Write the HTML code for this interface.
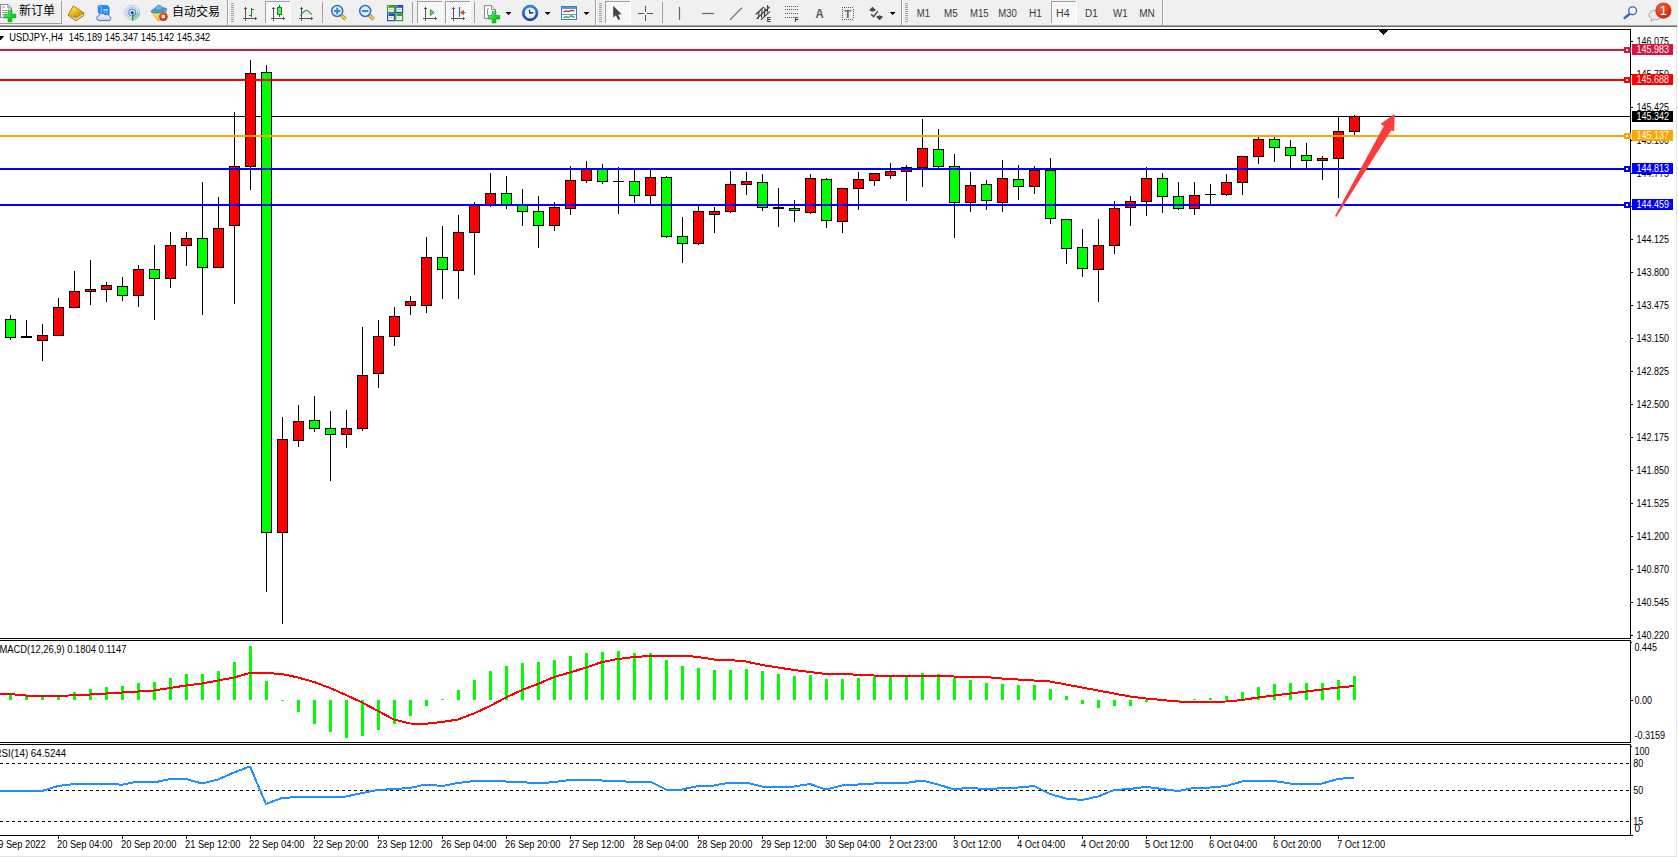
<!DOCTYPE html>
<html lang="zh"><head><meta charset="utf-8"><title>USDJPY-,H4</title>
<style>html,body{margin:0;padding:0;background:#fff;overflow:hidden}svg{display:block}text{white-space:pre}</style></head>
<body><svg width="1678" height="857" viewBox="0 0 1678 857">
<rect x="0" y="0" width="1678" height="857" fill="#fff"/>
<rect x="1676" y="27" width="1" height="830" fill="#e3e3e3"/>
<rect x="0" y="856" width="1677" height="1" fill="#e3e3e3"/>
<g shape-rendering="crispEdges">
<rect x="0" y="29" width="1631" height="1" fill="#000"/>
<rect x="1630" y="29" width="1" height="807" fill="#000"/>
<rect x="0" y="638" width="1631" height="1" fill="#000"/>
<rect x="0" y="640" width="1631" height="1" fill="#000"/>
<rect x="0" y="742" width="1631" height="1" fill="#000"/>
<rect x="0" y="744" width="1631" height="1" fill="#000"/>
<rect x="0" y="835" width="1633" height="1" fill="#000"/>
<rect x="1630" y="639" width="1" height="1" fill="#fff"/>
<rect x="1630" y="743" width="1" height="1" fill="#fff"/>
<rect x="0" y="116" width="1630" height="1" fill="#000"/>
<rect x="10" y="315" width="1" height="25" fill="#000"/>
<rect x="5" y="319" width="11" height="19" fill="#000"/>
<rect x="6" y="320" width="9" height="17" fill="#0f0"/>
<rect x="26" y="320" width="1" height="18" fill="#000"/>
<rect x="21" y="336" width="11" height="2" fill="#000"/>
<rect x="42" y="324" width="1" height="37" fill="#000"/>
<rect x="37" y="335" width="11" height="6" fill="#000"/>
<rect x="38" y="336" width="9" height="4" fill="#f00"/>
<rect x="58" y="298" width="1" height="38" fill="#000"/>
<rect x="53" y="307" width="11" height="29" fill="#000"/>
<rect x="54" y="308" width="9" height="27" fill="#f00"/>
<rect x="74" y="271" width="1" height="37" fill="#000"/>
<rect x="69" y="291" width="11" height="17" fill="#000"/>
<rect x="70" y="292" width="9" height="15" fill="#f00"/>
<rect x="90" y="260" width="1" height="45" fill="#000"/>
<rect x="85" y="289" width="11" height="3" fill="#000"/>
<rect x="86" y="290" width="9" height="1" fill="#f00"/>
<rect x="106" y="282" width="1" height="20" fill="#000"/>
<rect x="101" y="285" width="11" height="5" fill="#000"/>
<rect x="102" y="286" width="9" height="3" fill="#f00"/>
<rect x="122" y="277" width="1" height="24" fill="#000"/>
<rect x="117" y="286" width="11" height="10" fill="#000"/>
<rect x="118" y="287" width="9" height="8" fill="#0f0"/>
<rect x="138" y="265" width="1" height="42" fill="#000"/>
<rect x="133" y="269" width="11" height="27" fill="#000"/>
<rect x="134" y="270" width="9" height="25" fill="#f00"/>
<rect x="154" y="245" width="1" height="75" fill="#000"/>
<rect x="149" y="269" width="11" height="10" fill="#000"/>
<rect x="150" y="270" width="9" height="8" fill="#0f0"/>
<rect x="170" y="232" width="1" height="56" fill="#000"/>
<rect x="165" y="245" width="11" height="34" fill="#000"/>
<rect x="166" y="246" width="9" height="32" fill="#f00"/>
<rect x="186" y="232" width="1" height="34" fill="#000"/>
<rect x="181" y="238" width="11" height="8" fill="#000"/>
<rect x="182" y="239" width="9" height="6" fill="#f00"/>
<rect x="202" y="182" width="1" height="133" fill="#000"/>
<rect x="197" y="238" width="11" height="30" fill="#000"/>
<rect x="198" y="239" width="9" height="28" fill="#0f0"/>
<rect x="218" y="197" width="1" height="71" fill="#000"/>
<rect x="213" y="228" width="11" height="40" fill="#000"/>
<rect x="214" y="229" width="9" height="38" fill="#f00"/>
<rect x="234" y="112" width="1" height="192" fill="#000"/>
<rect x="229" y="166" width="11" height="60" fill="#000"/>
<rect x="230" y="167" width="9" height="58" fill="#f00"/>
<rect x="250" y="60" width="1" height="130" fill="#000"/>
<rect x="245" y="73" width="11" height="94" fill="#000"/>
<rect x="246" y="74" width="9" height="92" fill="#f00"/>
<rect x="266" y="65" width="1" height="527" fill="#000"/>
<rect x="261" y="72" width="11" height="461" fill="#000"/>
<rect x="262" y="73" width="9" height="459" fill="#0f0"/>
<rect x="282" y="417" width="1" height="207" fill="#000"/>
<rect x="277" y="439" width="11" height="94" fill="#000"/>
<rect x="278" y="440" width="9" height="92" fill="#f00"/>
<rect x="298" y="405" width="1" height="42" fill="#000"/>
<rect x="293" y="421" width="11" height="20" fill="#000"/>
<rect x="294" y="422" width="9" height="18" fill="#f00"/>
<rect x="314" y="396" width="1" height="36" fill="#000"/>
<rect x="309" y="420" width="11" height="9" fill="#000"/>
<rect x="310" y="421" width="9" height="7" fill="#0f0"/>
<rect x="330" y="411" width="1" height="70" fill="#000"/>
<rect x="325" y="428" width="11" height="7" fill="#000"/>
<rect x="326" y="429" width="9" height="5" fill="#0f0"/>
<rect x="346" y="410" width="1" height="38" fill="#000"/>
<rect x="341" y="428" width="11" height="7" fill="#000"/>
<rect x="342" y="429" width="9" height="5" fill="#f00"/>
<rect x="362" y="327" width="1" height="104" fill="#000"/>
<rect x="357" y="375" width="11" height="54" fill="#000"/>
<rect x="358" y="376" width="9" height="52" fill="#f00"/>
<rect x="378" y="320" width="1" height="68" fill="#000"/>
<rect x="373" y="336" width="11" height="38" fill="#000"/>
<rect x="374" y="337" width="9" height="36" fill="#f00"/>
<rect x="394" y="307" width="1" height="39" fill="#000"/>
<rect x="389" y="316" width="11" height="21" fill="#000"/>
<rect x="390" y="317" width="9" height="19" fill="#f00"/>
<rect x="410" y="296" width="1" height="19" fill="#000"/>
<rect x="405" y="301" width="11" height="5" fill="#000"/>
<rect x="406" y="302" width="9" height="3" fill="#f00"/>
<rect x="426" y="237" width="1" height="76" fill="#000"/>
<rect x="421" y="257" width="11" height="49" fill="#000"/>
<rect x="422" y="258" width="9" height="47" fill="#f00"/>
<rect x="442" y="226" width="1" height="73" fill="#000"/>
<rect x="437" y="257" width="11" height="13" fill="#000"/>
<rect x="438" y="258" width="9" height="11" fill="#0f0"/>
<rect x="458" y="215" width="1" height="84" fill="#000"/>
<rect x="453" y="232" width="11" height="39" fill="#000"/>
<rect x="454" y="233" width="9" height="37" fill="#f00"/>
<rect x="474" y="202" width="1" height="73" fill="#000"/>
<rect x="469" y="205" width="11" height="28" fill="#000"/>
<rect x="470" y="206" width="9" height="26" fill="#f00"/>
<rect x="490" y="173" width="1" height="34" fill="#000"/>
<rect x="485" y="193" width="11" height="13" fill="#000"/>
<rect x="486" y="194" width="9" height="11" fill="#f00"/>
<rect x="506" y="176" width="1" height="33" fill="#000"/>
<rect x="501" y="193" width="11" height="13" fill="#000"/>
<rect x="502" y="194" width="9" height="11" fill="#0f0"/>
<rect x="522" y="189" width="1" height="37" fill="#000"/>
<rect x="517" y="205" width="11" height="7" fill="#000"/>
<rect x="518" y="206" width="9" height="5" fill="#0f0"/>
<rect x="538" y="196" width="1" height="52" fill="#000"/>
<rect x="533" y="211" width="11" height="15" fill="#000"/>
<rect x="534" y="212" width="9" height="13" fill="#0f0"/>
<rect x="554" y="202" width="1" height="29" fill="#000"/>
<rect x="549" y="207" width="11" height="19" fill="#000"/>
<rect x="550" y="208" width="9" height="17" fill="#f00"/>
<rect x="570" y="166" width="1" height="49" fill="#000"/>
<rect x="565" y="180" width="11" height="29" fill="#000"/>
<rect x="566" y="181" width="9" height="27" fill="#f00"/>
<rect x="586" y="161" width="1" height="22" fill="#000"/>
<rect x="581" y="169" width="11" height="12" fill="#000"/>
<rect x="582" y="170" width="9" height="10" fill="#f00"/>
<rect x="602" y="164" width="1" height="20" fill="#000"/>
<rect x="597" y="169" width="11" height="13" fill="#000"/>
<rect x="598" y="170" width="9" height="11" fill="#0f0"/>
<rect x="618" y="167" width="1" height="47" fill="#000"/>
<rect x="613" y="181" width="11" height="1" fill="#000"/>
<rect x="634" y="169" width="1" height="34" fill="#000"/>
<rect x="629" y="181" width="11" height="15" fill="#000"/>
<rect x="630" y="182" width="9" height="13" fill="#0f0"/>
<rect x="650" y="169" width="1" height="35" fill="#000"/>
<rect x="645" y="177" width="11" height="19" fill="#000"/>
<rect x="646" y="178" width="9" height="17" fill="#f00"/>
<rect x="666" y="176" width="1" height="62" fill="#000"/>
<rect x="661" y="177" width="11" height="60" fill="#000"/>
<rect x="662" y="178" width="9" height="58" fill="#0f0"/>
<rect x="682" y="217" width="1" height="46" fill="#000"/>
<rect x="677" y="236" width="11" height="8" fill="#000"/>
<rect x="678" y="237" width="9" height="6" fill="#0f0"/>
<rect x="698" y="205" width="1" height="40" fill="#000"/>
<rect x="693" y="211" width="11" height="33" fill="#000"/>
<rect x="694" y="212" width="9" height="31" fill="#f00"/>
<rect x="714" y="207" width="1" height="26" fill="#000"/>
<rect x="709" y="211" width="11" height="4" fill="#000"/>
<rect x="710" y="212" width="9" height="2" fill="#f00"/>
<rect x="730" y="171" width="1" height="42" fill="#000"/>
<rect x="725" y="184" width="11" height="28" fill="#000"/>
<rect x="726" y="185" width="9" height="26" fill="#f00"/>
<rect x="746" y="172" width="1" height="23" fill="#000"/>
<rect x="741" y="181" width="11" height="4" fill="#000"/>
<rect x="742" y="182" width="9" height="2" fill="#f00"/>
<rect x="762" y="174" width="1" height="37" fill="#000"/>
<rect x="757" y="182" width="11" height="26" fill="#000"/>
<rect x="758" y="183" width="9" height="24" fill="#0f0"/>
<rect x="778" y="188" width="1" height="39" fill="#000"/>
<rect x="773" y="207" width="11" height="2" fill="#000"/>
<rect x="794" y="200" width="1" height="22" fill="#000"/>
<rect x="789" y="208" width="11" height="3" fill="#000"/>
<rect x="790" y="209" width="9" height="1" fill="#0f0"/>
<rect x="810" y="174" width="1" height="40" fill="#000"/>
<rect x="805" y="178" width="11" height="35" fill="#000"/>
<rect x="806" y="179" width="9" height="33" fill="#f00"/>
<rect x="826" y="178" width="1" height="50" fill="#000"/>
<rect x="821" y="179" width="11" height="42" fill="#000"/>
<rect x="822" y="180" width="9" height="40" fill="#0f0"/>
<rect x="842" y="188" width="1" height="45" fill="#000"/>
<rect x="837" y="188" width="11" height="34" fill="#000"/>
<rect x="838" y="189" width="9" height="32" fill="#f00"/>
<rect x="858" y="172" width="1" height="38" fill="#000"/>
<rect x="853" y="179" width="11" height="10" fill="#000"/>
<rect x="854" y="180" width="9" height="8" fill="#f00"/>
<rect x="874" y="173" width="1" height="13" fill="#000"/>
<rect x="869" y="173" width="11" height="8" fill="#000"/>
<rect x="870" y="174" width="9" height="6" fill="#f00"/>
<rect x="890" y="163" width="1" height="16" fill="#000"/>
<rect x="885" y="171" width="11" height="5" fill="#000"/>
<rect x="886" y="172" width="9" height="3" fill="#f00"/>
<rect x="906" y="165" width="1" height="36" fill="#000"/>
<rect x="901" y="167" width="11" height="5" fill="#000"/>
<rect x="902" y="168" width="9" height="3" fill="#f00"/>
<rect x="922" y="119" width="1" height="68" fill="#000"/>
<rect x="917" y="148" width="11" height="20" fill="#000"/>
<rect x="918" y="149" width="9" height="18" fill="#f00"/>
<rect x="938" y="129" width="1" height="39" fill="#000"/>
<rect x="933" y="149" width="11" height="18" fill="#000"/>
<rect x="934" y="150" width="9" height="16" fill="#0f0"/>
<rect x="954" y="154" width="1" height="84" fill="#000"/>
<rect x="949" y="166" width="11" height="37" fill="#000"/>
<rect x="950" y="167" width="9" height="35" fill="#0f0"/>
<rect x="970" y="172" width="1" height="40" fill="#000"/>
<rect x="965" y="185" width="11" height="18" fill="#000"/>
<rect x="966" y="186" width="9" height="16" fill="#f00"/>
<rect x="986" y="180" width="1" height="30" fill="#000"/>
<rect x="981" y="184" width="11" height="17" fill="#000"/>
<rect x="982" y="185" width="9" height="15" fill="#0f0"/>
<rect x="1002" y="160" width="1" height="52" fill="#000"/>
<rect x="997" y="178" width="11" height="25" fill="#000"/>
<rect x="998" y="179" width="9" height="23" fill="#f00"/>
<rect x="1018" y="165" width="1" height="35" fill="#000"/>
<rect x="1013" y="179" width="11" height="8" fill="#000"/>
<rect x="1014" y="180" width="9" height="6" fill="#0f0"/>
<rect x="1034" y="166" width="1" height="28" fill="#000"/>
<rect x="1029" y="170" width="11" height="17" fill="#000"/>
<rect x="1030" y="171" width="9" height="15" fill="#f00"/>
<rect x="1050" y="158" width="1" height="66" fill="#000"/>
<rect x="1045" y="170" width="11" height="49" fill="#000"/>
<rect x="1046" y="171" width="9" height="47" fill="#0f0"/>
<rect x="1066" y="219" width="1" height="45" fill="#000"/>
<rect x="1061" y="219" width="11" height="30" fill="#000"/>
<rect x="1062" y="220" width="9" height="28" fill="#0f0"/>
<rect x="1082" y="229" width="1" height="48" fill="#000"/>
<rect x="1077" y="247" width="11" height="22" fill="#000"/>
<rect x="1078" y="248" width="9" height="20" fill="#0f0"/>
<rect x="1098" y="219" width="1" height="83" fill="#000"/>
<rect x="1093" y="245" width="11" height="25" fill="#000"/>
<rect x="1094" y="246" width="9" height="23" fill="#f00"/>
<rect x="1114" y="201" width="1" height="53" fill="#000"/>
<rect x="1109" y="208" width="11" height="38" fill="#000"/>
<rect x="1110" y="209" width="9" height="36" fill="#f00"/>
<rect x="1130" y="196" width="1" height="30" fill="#000"/>
<rect x="1125" y="201" width="11" height="7" fill="#000"/>
<rect x="1126" y="202" width="9" height="5" fill="#f00"/>
<rect x="1146" y="167" width="1" height="49" fill="#000"/>
<rect x="1141" y="178" width="11" height="24" fill="#000"/>
<rect x="1142" y="179" width="9" height="22" fill="#f00"/>
<rect x="1162" y="173" width="1" height="40" fill="#000"/>
<rect x="1157" y="178" width="11" height="19" fill="#000"/>
<rect x="1158" y="179" width="9" height="17" fill="#0f0"/>
<rect x="1178" y="182" width="1" height="28" fill="#000"/>
<rect x="1173" y="196" width="11" height="13" fill="#000"/>
<rect x="1174" y="197" width="9" height="11" fill="#0f0"/>
<rect x="1194" y="182" width="1" height="33" fill="#000"/>
<rect x="1189" y="195" width="11" height="14" fill="#000"/>
<rect x="1190" y="196" width="9" height="12" fill="#f00"/>
<rect x="1210" y="184" width="1" height="20" fill="#000"/>
<rect x="1205" y="194" width="11" height="1" fill="#000"/>
<rect x="1226" y="174" width="1" height="22" fill="#000"/>
<rect x="1221" y="182" width="11" height="13" fill="#000"/>
<rect x="1222" y="183" width="9" height="11" fill="#f00"/>
<rect x="1242" y="156" width="1" height="39" fill="#000"/>
<rect x="1237" y="156" width="11" height="27" fill="#000"/>
<rect x="1238" y="157" width="9" height="25" fill="#f00"/>
<rect x="1258" y="137" width="1" height="27" fill="#000"/>
<rect x="1253" y="139" width="11" height="18" fill="#000"/>
<rect x="1254" y="140" width="9" height="16" fill="#f00"/>
<rect x="1274" y="137" width="1" height="25" fill="#000"/>
<rect x="1269" y="139" width="11" height="9" fill="#000"/>
<rect x="1270" y="140" width="9" height="7" fill="#0f0"/>
<rect x="1290" y="140" width="1" height="28" fill="#000"/>
<rect x="1285" y="147" width="11" height="9" fill="#000"/>
<rect x="1286" y="148" width="9" height="7" fill="#0f0"/>
<rect x="1306" y="143" width="1" height="25" fill="#000"/>
<rect x="1301" y="155" width="11" height="6" fill="#000"/>
<rect x="1302" y="156" width="9" height="4" fill="#0f0"/>
<rect x="1322" y="156" width="1" height="24" fill="#000"/>
<rect x="1317" y="158" width="11" height="3" fill="#000"/>
<rect x="1318" y="159" width="9" height="1" fill="#f00"/>
<rect x="1338" y="116" width="1" height="82" fill="#000"/>
<rect x="1333" y="131" width="11" height="28" fill="#000"/>
<rect x="1334" y="132" width="9" height="26" fill="#f00"/>
<rect x="1354" y="115" width="1" height="20" fill="#000"/>
<rect x="1349" y="116" width="11" height="16" fill="#000"/>
<rect x="1350" y="117" width="9" height="14" fill="#f00"/>
<rect x="0" y="49" width="1630" height="2" fill="#dc143c"/>
<rect x="1624" y="47" width="7" height="6" fill="#dc143c"/>
<rect x="1626" y="49" width="2" height="2" fill="#fff"/>
<rect x="0" y="79" width="1630" height="2" fill="#f00"/>
<rect x="1624" y="77" width="7" height="6" fill="#f00"/>
<rect x="1626" y="79" width="2" height="2" fill="#fff"/>
<rect x="0" y="135" width="1630" height="2" fill="#ffa500"/>
<rect x="1624" y="133" width="7" height="6" fill="#ffa500"/>
<rect x="1626" y="135" width="2" height="2" fill="#fff"/>
<rect x="0" y="168" width="1630" height="2" fill="#00f"/>
<rect x="1624" y="166" width="7" height="6" fill="#00f"/>
<rect x="1626" y="168" width="2" height="2" fill="#fff"/>
<rect x="0" y="204" width="1630" height="2" fill="#00f"/>
<rect x="1624" y="202" width="7" height="6" fill="#00f"/>
<rect x="1626" y="204" width="2" height="2" fill="#fff"/>
<rect x="1379" y="30" width="9" height="1" fill="#000"/>
<rect x="1380" y="31" width="7" height="1" fill="#000"/>
<rect x="1381" y="32" width="5" height="1" fill="#000"/>
<rect x="1382" y="33" width="3" height="1" fill="#000"/>
<rect x="1383" y="34" width="1" height="1" fill="#000"/>
<polygon points="-3,36 4.2,36 0.6,40.2" fill="#000" shape-rendering="geometricPrecision"/>
<rect x="1631" y="41" width="2" height="1" fill="#000"/>
<rect x="1631" y="74" width="2" height="1" fill="#000"/>
<rect x="1631" y="107" width="2" height="1" fill="#000"/>
<rect x="1631" y="140" width="2" height="1" fill="#000"/>
<rect x="1631" y="173" width="2" height="1" fill="#000"/>
<rect x="1631" y="206" width="2" height="1" fill="#000"/>
<rect x="1631" y="239" width="2" height="1" fill="#000"/>
<rect x="1631" y="272" width="2" height="1" fill="#000"/>
<rect x="1631" y="305" width="2" height="1" fill="#000"/>
<rect x="1631" y="338" width="2" height="1" fill="#000"/>
<rect x="1631" y="371" width="2" height="1" fill="#000"/>
<rect x="1631" y="404" width="2" height="1" fill="#000"/>
<rect x="1631" y="437" width="2" height="1" fill="#000"/>
<rect x="1631" y="470" width="2" height="1" fill="#000"/>
<rect x="1631" y="503" width="2" height="1" fill="#000"/>
<rect x="1631" y="536" width="2" height="1" fill="#000"/>
<rect x="1631" y="569" width="2" height="1" fill="#000"/>
<rect x="1631" y="602" width="2" height="1" fill="#000"/>
<rect x="1631" y="635" width="2" height="1" fill="#000"/>
<rect x="1631" y="642" width="1" height="1" fill="#000"/>
<rect x="1631" y="700" width="2" height="1" fill="#000"/>
<rect x="1631" y="746" width="1" height="1" fill="#000"/>
<rect x="9" y="693" width="3" height="7" fill="#0f0"/>
<rect x="25" y="695" width="3" height="5" fill="#0f0"/>
<rect x="41" y="696" width="3" height="4" fill="#0f0"/>
<rect x="57" y="696" width="3" height="4" fill="#0f0"/>
<rect x="73" y="692" width="3" height="8" fill="#0f0"/>
<rect x="89" y="689" width="3" height="11" fill="#0f0"/>
<rect x="105" y="687" width="3" height="13" fill="#0f0"/>
<rect x="121" y="686" width="3" height="14" fill="#0f0"/>
<rect x="137" y="683" width="3" height="17" fill="#0f0"/>
<rect x="153" y="682" width="3" height="18" fill="#0f0"/>
<rect x="169" y="678" width="3" height="22" fill="#0f0"/>
<rect x="185" y="674" width="3" height="26" fill="#0f0"/>
<rect x="201" y="674" width="3" height="26" fill="#0f0"/>
<rect x="217" y="671" width="3" height="29" fill="#0f0"/>
<rect x="233" y="662" width="3" height="38" fill="#0f0"/>
<rect x="249" y="646" width="3" height="54" fill="#0f0"/>
<rect x="265" y="681" width="3" height="19" fill="#0f0"/>
<rect x="281" y="700" width="3" height="1" fill="#0f0"/>
<rect x="297" y="700" width="3" height="12" fill="#0f0"/>
<rect x="313" y="700" width="3" height="24" fill="#0f0"/>
<rect x="329" y="700" width="3" height="32" fill="#0f0"/>
<rect x="345" y="700" width="3" height="38" fill="#0f0"/>
<rect x="361" y="700" width="3" height="36" fill="#0f0"/>
<rect x="377" y="700" width="3" height="30" fill="#0f0"/>
<rect x="393" y="700" width="3" height="24" fill="#0f0"/>
<rect x="409" y="700" width="3" height="16" fill="#0f0"/>
<rect x="425" y="700" width="3" height="6" fill="#0f0"/>
<rect x="441" y="699" width="3" height="1" fill="#0f0"/>
<rect x="457" y="690" width="3" height="10" fill="#0f0"/>
<rect x="473" y="680" width="3" height="20" fill="#0f0"/>
<rect x="489" y="671" width="3" height="29" fill="#0f0"/>
<rect x="505" y="666" width="3" height="34" fill="#0f0"/>
<rect x="521" y="663" width="3" height="37" fill="#0f0"/>
<rect x="537" y="662" width="3" height="38" fill="#0f0"/>
<rect x="553" y="660" width="3" height="40" fill="#0f0"/>
<rect x="569" y="656" width="3" height="44" fill="#0f0"/>
<rect x="585" y="653" width="3" height="47" fill="#0f0"/>
<rect x="601" y="652" width="3" height="48" fill="#0f0"/>
<rect x="617" y="651" width="3" height="49" fill="#0f0"/>
<rect x="633" y="653" width="3" height="47" fill="#0f0"/>
<rect x="649" y="653" width="3" height="47" fill="#0f0"/>
<rect x="665" y="660" width="3" height="40" fill="#0f0"/>
<rect x="681" y="666" width="3" height="34" fill="#0f0"/>
<rect x="697" y="668" width="3" height="32" fill="#0f0"/>
<rect x="713" y="670" width="3" height="30" fill="#0f0"/>
<rect x="729" y="670" width="3" height="30" fill="#0f0"/>
<rect x="745" y="669" width="3" height="31" fill="#0f0"/>
<rect x="761" y="671" width="3" height="29" fill="#0f0"/>
<rect x="777" y="674" width="3" height="26" fill="#0f0"/>
<rect x="793" y="676" width="3" height="24" fill="#0f0"/>
<rect x="809" y="675" width="3" height="25" fill="#0f0"/>
<rect x="825" y="679" width="3" height="21" fill="#0f0"/>
<rect x="841" y="679" width="3" height="21" fill="#0f0"/>
<rect x="857" y="678" width="3" height="22" fill="#0f0"/>
<rect x="873" y="677" width="3" height="23" fill="#0f0"/>
<rect x="889" y="677" width="3" height="23" fill="#0f0"/>
<rect x="905" y="675" width="3" height="25" fill="#0f0"/>
<rect x="921" y="673" width="3" height="27" fill="#0f0"/>
<rect x="937" y="674" width="3" height="26" fill="#0f0"/>
<rect x="953" y="678" width="3" height="22" fill="#0f0"/>
<rect x="969" y="680" width="3" height="20" fill="#0f0"/>
<rect x="985" y="683" width="3" height="17" fill="#0f0"/>
<rect x="1001" y="684" width="3" height="16" fill="#0f0"/>
<rect x="1017" y="685" width="3" height="15" fill="#0f0"/>
<rect x="1033" y="685" width="3" height="15" fill="#0f0"/>
<rect x="1049" y="689" width="3" height="11" fill="#0f0"/>
<rect x="1065" y="696" width="3" height="4" fill="#0f0"/>
<rect x="1081" y="700" width="3" height="4" fill="#0f0"/>
<rect x="1097" y="700" width="3" height="8" fill="#0f0"/>
<rect x="1113" y="700" width="3" height="6" fill="#0f0"/>
<rect x="1129" y="700" width="3" height="6" fill="#0f0"/>
<rect x="1145" y="700" width="3" height="2" fill="#0f0"/>
<rect x="1161" y="700" width="3" height="1" fill="#0f0"/>
<rect x="1177" y="700" width="3" height="1" fill="#0f0"/>
<rect x="1193" y="699" width="3" height="1" fill="#0f0"/>
<rect x="1209" y="698" width="3" height="2" fill="#0f0"/>
<rect x="1225" y="696" width="3" height="4" fill="#0f0"/>
<rect x="1241" y="692" width="3" height="8" fill="#0f0"/>
<rect x="1257" y="687" width="3" height="13" fill="#0f0"/>
<rect x="1273" y="684" width="3" height="16" fill="#0f0"/>
<rect x="1289" y="683" width="3" height="17" fill="#0f0"/>
<rect x="1305" y="683" width="3" height="17" fill="#0f0"/>
<rect x="1321" y="683" width="3" height="17" fill="#0f0"/>
<rect x="1337" y="680" width="3" height="20" fill="#0f0"/>
<rect x="1353" y="676" width="3" height="24" fill="#0f0"/>
<path d="M0 763.5H1630" stroke="#000" stroke-width="1" stroke-dasharray="3 3" fill="none"/>
<path d="M0 790.5H1630" stroke="#000" stroke-width="1" stroke-dasharray="3 3" fill="none"/>
<path d="M0 821.5H1630" stroke="#000" stroke-width="1" stroke-dasharray="3 3" fill="none"/>
<rect x="58" y="836" width="1" height="3" fill="#000"/>
<rect x="122" y="836" width="1" height="3" fill="#000"/>
<rect x="186" y="836" width="1" height="3" fill="#000"/>
<rect x="250" y="836" width="1" height="3" fill="#000"/>
<rect x="314" y="836" width="1" height="3" fill="#000"/>
<rect x="378" y="836" width="1" height="3" fill="#000"/>
<rect x="442" y="836" width="1" height="3" fill="#000"/>
<rect x="506" y="836" width="1" height="3" fill="#000"/>
<rect x="570" y="836" width="1" height="3" fill="#000"/>
<rect x="634" y="836" width="1" height="3" fill="#000"/>
<rect x="698" y="836" width="1" height="3" fill="#000"/>
<rect x="762" y="836" width="1" height="3" fill="#000"/>
<rect x="826" y="836" width="1" height="3" fill="#000"/>
<rect x="890" y="836" width="1" height="3" fill="#000"/>
<rect x="954" y="836" width="1" height="3" fill="#000"/>
<rect x="1018" y="836" width="1" height="3" fill="#000"/>
<rect x="1082" y="836" width="1" height="3" fill="#000"/>
<rect x="1146" y="836" width="1" height="3" fill="#000"/>
<rect x="1210" y="836" width="1" height="3" fill="#000"/>
<rect x="1274" y="836" width="1" height="3" fill="#000"/>
<rect x="1338" y="836" width="1" height="3" fill="#000"/>
</g>
<polyline points="-6,693.5 10,694 26,695.5 42,696 58,696 74,695.25 90,694.5 106,693.5 122,692.5 138,691.5 154,690.5 170,688 186,685.5 202,683.5 218,680.5 234,677.5 250,673 266,673 282,674 298,677.5 314,682 330,688 346,695 362,702.5 378,711 394,719.5 410,723.5 426,723.75 442,722 458,719.5 474,713.5 490,706 506,697.5 522,690 538,684 554,677 570,672.5 586,667.5 602,662 618,659 634,657 650,656 666,655.5 682,655.5 698,657 714,659.5 730,660 746,661.5 762,665 778,667.5 794,670 810,672 826,674 842,674 858,674.75 874,675.5 890,676 906,676 922,676 938,676 954,676.5 970,676.5 986,677 1002,678.5 1018,679.5 1034,680.5 1050,681.5 1066,684.5 1082,687.5 1098,690.5 1114,693.5 1130,696.5 1146,698.5 1162,700 1178,701.5 1194,701.75 1210,701.75 1226,701.5 1242,700 1258,697.5 1274,695.5 1290,693.5 1306,691.5 1322,689.5 1338,687.5 1354,686" fill="none" stroke="#f00" stroke-width="2" stroke-linejoin="round" shape-rendering="crispEdges"/>
<polyline points="-6,790.5 10,790.5 26,791 42,791 58,786 74,784 90,783.5 106,783.5 122,784.75 138,781.5 154,782.5 170,779 186,779 202,783.5 218,779.5 234,772.5 250,766.5 266,804 282,798 298,797 314,796.5 330,796.5 346,796.5 362,793 378,790 394,789 410,788 426,784.5 442,786 458,783 474,781 490,780.5 506,781.5 522,782 538,783.5 554,782 570,780 586,779.5 602,780.5 618,780.5 634,782.5 650,781.5 666,789.5 682,789.5 698,786 714,785.5 730,782.5 746,782.5 762,786.5 778,786.5 794,786.5 810,784 826,789.5 842,785.5 858,784.5 874,783.5 890,783 906,783 922,780.5 938,784.5 954,789.5 970,787.5 986,789.5 1002,788 1018,787.5 1034,786 1050,794 1066,798.5 1082,800 1098,796.5 1114,790 1130,789 1146,786.75 1162,789 1178,791 1194,788 1210,787.5 1226,786 1242,781.5 1258,780.5 1274,781 1290,783.5 1306,783.5 1322,783.5 1338,779 1354,777.5" fill="none" stroke="#1e90ff" stroke-width="2" stroke-linejoin="round" shape-rendering="crispEdges"/>
<polygon points="1335.0,216.1 1383.8,126.0 1380.6,123.8 1394.7,113.9 1394.2,131.2 1391.1,130.4 1336.3,217.0" fill="#f93c3c"/>
<g font-family='"Liberation Sans", "Noto Sans CJK SC", sans-serif'>
<text x="9.3" y="41" font-size="10" fill="#000" textLength="53.6" lengthAdjust="spacingAndGlyphs">USDJPY-,H4</text>
<text x="68.8" y="41" font-size="10" fill="#000" textLength="141.4" lengthAdjust="spacingAndGlyphs">145.189 145.347 145.142 145.342</text>
<text x="-0.5" y="653" font-size="10" fill="#000" textLength="127" lengthAdjust="spacingAndGlyphs">MACD(12,26,9) 0.1804 0.1147</text>
<text x="-5.5" y="757" font-size="10" fill="#000" textLength="71.7" lengthAdjust="spacingAndGlyphs">RSI(14) 64.5244</text>
<text x="1636.5" y="45.3" font-size="10" fill="#000" textLength="32.5" lengthAdjust="spacingAndGlyphs">146.075</text>
<text x="1636.5" y="78.3" font-size="10" fill="#000" textLength="32.5" lengthAdjust="spacingAndGlyphs">145.750</text>
<text x="1636.5" y="111.3" font-size="10" fill="#000" textLength="32.5" lengthAdjust="spacingAndGlyphs">145.425</text>
<text x="1636.5" y="144.3" font-size="10" fill="#000" textLength="32.5" lengthAdjust="spacingAndGlyphs">145.100</text>
<text x="1636.5" y="177.3" font-size="10" fill="#000" textLength="32.5" lengthAdjust="spacingAndGlyphs">144.775</text>
<text x="1636.5" y="210.3" font-size="10" fill="#000" textLength="32.5" lengthAdjust="spacingAndGlyphs">144.450</text>
<text x="1636.5" y="243.3" font-size="10" fill="#000" textLength="32.5" lengthAdjust="spacingAndGlyphs">144.125</text>
<text x="1636.5" y="276.3" font-size="10" fill="#000" textLength="32.5" lengthAdjust="spacingAndGlyphs">143.800</text>
<text x="1636.5" y="309.3" font-size="10" fill="#000" textLength="32.5" lengthAdjust="spacingAndGlyphs">143.475</text>
<text x="1636.5" y="342.3" font-size="10" fill="#000" textLength="32.5" lengthAdjust="spacingAndGlyphs">143.150</text>
<text x="1636.5" y="375.3" font-size="10" fill="#000" textLength="32.5" lengthAdjust="spacingAndGlyphs">142.825</text>
<text x="1636.5" y="408.3" font-size="10" fill="#000" textLength="32.5" lengthAdjust="spacingAndGlyphs">142.500</text>
<text x="1636.5" y="441.3" font-size="10" fill="#000" textLength="32.5" lengthAdjust="spacingAndGlyphs">142.175</text>
<text x="1636.5" y="474.3" font-size="10" fill="#000" textLength="32.5" lengthAdjust="spacingAndGlyphs">141.850</text>
<text x="1636.5" y="507.3" font-size="10" fill="#000" textLength="32.5" lengthAdjust="spacingAndGlyphs">141.525</text>
<text x="1636.5" y="540.3" font-size="10" fill="#000" textLength="32.5" lengthAdjust="spacingAndGlyphs">141.200</text>
<text x="1636.5" y="573.3" font-size="10" fill="#000" textLength="32.5" lengthAdjust="spacingAndGlyphs">140.870</text>
<text x="1636.5" y="606.3" font-size="10" fill="#000" textLength="32.5" lengthAdjust="spacingAndGlyphs">140.545</text>
<text x="1636.5" y="639.3" font-size="10" fill="#000" textLength="32.5" lengthAdjust="spacingAndGlyphs">140.220</text>
<g shape-rendering="crispEdges">
<rect x="1632" y="44" width="41" height="11" fill="#dc143c"/>
<rect x="1632" y="74" width="41" height="11" fill="#f00"/>
<rect x="1632" y="130" width="41" height="11" fill="#ffa500"/>
<rect x="1632" y="163" width="41" height="11" fill="#00f"/>
<rect x="1632" y="199" width="41" height="11" fill="#00f"/>
<rect x="1632" y="111" width="41" height="11" fill="#000"/>
</g>
<text x="1636.5" y="53.4" font-size="10" fill="#fff" textLength="32.5" lengthAdjust="spacingAndGlyphs">145.983</text>
<text x="1636.5" y="83.4" font-size="10" fill="#fff" textLength="32.5" lengthAdjust="spacingAndGlyphs">145.688</text>
<text x="1636.5" y="139.4" font-size="10" fill="#fff" textLength="32.5" lengthAdjust="spacingAndGlyphs">145.137</text>
<text x="1636.5" y="172.4" font-size="10" fill="#fff" textLength="32.5" lengthAdjust="spacingAndGlyphs">144.813</text>
<text x="1636.5" y="208.4" font-size="10" fill="#fff" textLength="32.5" lengthAdjust="spacingAndGlyphs">144.459</text>
<text x="1636.5" y="120.4" font-size="10" fill="#fff" textLength="32.5" lengthAdjust="spacingAndGlyphs">145.342</text>
<text x="1634.5" y="651" font-size="10" fill="#000" textLength="22.5" lengthAdjust="spacingAndGlyphs">0.445</text>
<text x="1634.5" y="704" font-size="10" fill="#000" textLength="17.5" lengthAdjust="spacingAndGlyphs">0.00</text>
<text x="1634.5" y="739" font-size="10" fill="#000" textLength="30.5" lengthAdjust="spacingAndGlyphs">-0.3159</text>
<text x="1634.5" y="755" font-size="10" fill="#000" textLength="15" lengthAdjust="spacingAndGlyphs">100</text>
<text x="1633.3" y="767" font-size="10" fill="#000" textLength="10" lengthAdjust="spacingAndGlyphs">80</text>
<text x="1633.3" y="794" font-size="10" fill="#000" textLength="10" lengthAdjust="spacingAndGlyphs">50</text>
<text x="1633.3" y="825" font-size="10" fill="#000" textLength="10" lengthAdjust="spacingAndGlyphs">15</text>
<text x="1634.5" y="832" font-size="10" fill="#000">0</text>
<text x="-7" y="848" font-size="10" fill="#000" textLength="52.7" lengthAdjust="spacingAndGlyphs">19 Sep 2022</text>
<text x="57" y="848" font-size="10" fill="#000" textLength="55.3" lengthAdjust="spacingAndGlyphs">20 Sep 04:00</text>
<text x="121" y="848" font-size="10" fill="#000" textLength="55.3" lengthAdjust="spacingAndGlyphs">20 Sep 20:00</text>
<text x="185" y="848" font-size="10" fill="#000" textLength="55.3" lengthAdjust="spacingAndGlyphs">21 Sep 12:00</text>
<text x="249" y="848" font-size="10" fill="#000" textLength="55.3" lengthAdjust="spacingAndGlyphs">22 Sep 04:00</text>
<text x="313" y="848" font-size="10" fill="#000" textLength="55.3" lengthAdjust="spacingAndGlyphs">22 Sep 20:00</text>
<text x="377" y="848" font-size="10" fill="#000" textLength="55.3" lengthAdjust="spacingAndGlyphs">23 Sep 12:00</text>
<text x="441" y="848" font-size="10" fill="#000" textLength="55.3" lengthAdjust="spacingAndGlyphs">26 Sep 04:00</text>
<text x="505" y="848" font-size="10" fill="#000" textLength="55.3" lengthAdjust="spacingAndGlyphs">26 Sep 20:00</text>
<text x="569" y="848" font-size="10" fill="#000" textLength="55.3" lengthAdjust="spacingAndGlyphs">27 Sep 12:00</text>
<text x="633" y="848" font-size="10" fill="#000" textLength="55.3" lengthAdjust="spacingAndGlyphs">28 Sep 04:00</text>
<text x="697" y="848" font-size="10" fill="#000" textLength="55.3" lengthAdjust="spacingAndGlyphs">28 Sep 20:00</text>
<text x="761" y="848" font-size="10" fill="#000" textLength="55.3" lengthAdjust="spacingAndGlyphs">29 Sep 12:00</text>
<text x="825" y="848" font-size="10" fill="#000" textLength="55.3" lengthAdjust="spacingAndGlyphs">30 Sep 04:00</text>
<text x="889" y="848" font-size="10" fill="#000" textLength="48.1" lengthAdjust="spacingAndGlyphs">2 Oct 23:00</text>
<text x="953" y="848" font-size="10" fill="#000" textLength="48.1" lengthAdjust="spacingAndGlyphs">3 Oct 12:00</text>
<text x="1017" y="848" font-size="10" fill="#000" textLength="48.1" lengthAdjust="spacingAndGlyphs">4 Oct 04:00</text>
<text x="1081" y="848" font-size="10" fill="#000" textLength="48.1" lengthAdjust="spacingAndGlyphs">4 Oct 20:00</text>
<text x="1145" y="848" font-size="10" fill="#000" textLength="48.1" lengthAdjust="spacingAndGlyphs">5 Oct 12:00</text>
<text x="1209" y="848" font-size="10" fill="#000" textLength="48.1" lengthAdjust="spacingAndGlyphs">6 Oct 04:00</text>
<text x="1273" y="848" font-size="10" fill="#000" textLength="48.1" lengthAdjust="spacingAndGlyphs">6 Oct 20:00</text>
<text x="1337" y="848" font-size="10" fill="#000" textLength="48.1" lengthAdjust="spacingAndGlyphs">7 Oct 12:00</text>
</g>
<defs><pattern id="chk" width="2" height="2" patternUnits="userSpaceOnUse"><rect width="2" height="2" fill="#fff"/><rect width="1" height="1" fill="#f0f0f0"/><rect x="1" y="1" width="1" height="1" fill="#f0f0f0"/></pattern></defs>
<g shape-rendering="crispEdges">
<rect x="0" y="0" width="1678" height="27" fill="#f0f0f0"/>
<rect x="0" y="25" width="1677" height="1" fill="#a6a6a6"/>
<rect x="0" y="26" width="1677" height="1" fill="#6b6b6b"/>
<rect x="0" y="1" width="61" height="1" fill="#fff"/>
<rect x="0" y="23" width="62" height="1" fill="#a0a0a0"/>
<rect x="61" y="1" width="1" height="23" fill="#a0a0a0"/>
<rect x="227" y="0" width="1" height="25" fill="#a0a0a0"/>
<rect x="228" y="0" width="1" height="25" fill="#fff"/>
<rect x="595" y="0" width="1" height="25" fill="#a0a0a0"/>
<rect x="596" y="0" width="1" height="25" fill="#fff"/>
<rect x="901" y="0" width="1" height="25" fill="#a0a0a0"/>
<rect x="902" y="0" width="1" height="25" fill="#fff"/>
<rect x="1162" y="0" width="1" height="25" fill="#a0a0a0"/>
<rect x="1163" y="0" width="1" height="25" fill="#fff"/>
<rect x="322" y="2" width="1" height="21" fill="#a0a0a0"/>
<rect x="412" y="2" width="1" height="21" fill="#a0a0a0"/>
<rect x="474" y="2" width="1" height="21" fill="#a0a0a0"/>
<rect x="662" y="2" width="1" height="21" fill="#a0a0a0"/>
<rect x="231" y="3" width="3" height="1" fill="#a0a0a0"/>
<rect x="231" y="5" width="3" height="1" fill="#a0a0a0"/>
<rect x="231" y="7" width="3" height="1" fill="#a0a0a0"/>
<rect x="231" y="9" width="3" height="1" fill="#a0a0a0"/>
<rect x="231" y="11" width="3" height="1" fill="#a0a0a0"/>
<rect x="231" y="13" width="3" height="1" fill="#a0a0a0"/>
<rect x="231" y="15" width="3" height="1" fill="#a0a0a0"/>
<rect x="231" y="17" width="3" height="1" fill="#a0a0a0"/>
<rect x="231" y="19" width="3" height="1" fill="#a0a0a0"/>
<rect x="231" y="21" width="3" height="1" fill="#a0a0a0"/>
<rect x="599" y="3" width="3" height="1" fill="#a0a0a0"/>
<rect x="599" y="5" width="3" height="1" fill="#a0a0a0"/>
<rect x="599" y="7" width="3" height="1" fill="#a0a0a0"/>
<rect x="599" y="9" width="3" height="1" fill="#a0a0a0"/>
<rect x="599" y="11" width="3" height="1" fill="#a0a0a0"/>
<rect x="599" y="13" width="3" height="1" fill="#a0a0a0"/>
<rect x="599" y="15" width="3" height="1" fill="#a0a0a0"/>
<rect x="599" y="17" width="3" height="1" fill="#a0a0a0"/>
<rect x="599" y="19" width="3" height="1" fill="#a0a0a0"/>
<rect x="599" y="21" width="3" height="1" fill="#a0a0a0"/>
<rect x="905" y="3" width="3" height="1" fill="#a0a0a0"/>
<rect x="905" y="5" width="3" height="1" fill="#a0a0a0"/>
<rect x="905" y="7" width="3" height="1" fill="#a0a0a0"/>
<rect x="905" y="9" width="3" height="1" fill="#a0a0a0"/>
<rect x="905" y="11" width="3" height="1" fill="#a0a0a0"/>
<rect x="905" y="13" width="3" height="1" fill="#a0a0a0"/>
<rect x="905" y="15" width="3" height="1" fill="#a0a0a0"/>
<rect x="905" y="17" width="3" height="1" fill="#a0a0a0"/>
<rect x="905" y="19" width="3" height="1" fill="#a0a0a0"/>
<rect x="905" y="21" width="3" height="1" fill="#a0a0a0"/>
<rect x="265" y="1" width="26" height="23" fill="url(#chk)"/>
<rect x="265" y="1" width="26" height="1" fill="#a0a0a0"/>
<rect x="265" y="1" width="1" height="22" fill="#a0a0a0"/>
<rect x="290" y="1" width="1" height="23" fill="#fff"/>
<rect x="265" y="23" width="26" height="1" fill="#fff"/>
<rect x="417" y="1" width="26" height="23" fill="url(#chk)"/>
<rect x="417" y="1" width="26" height="1" fill="#a0a0a0"/>
<rect x="417" y="1" width="1" height="22" fill="#a0a0a0"/>
<rect x="442" y="1" width="1" height="23" fill="#fff"/>
<rect x="417" y="23" width="26" height="1" fill="#fff"/>
<rect x="445" y="1" width="26" height="23" fill="url(#chk)"/>
<rect x="445" y="1" width="26" height="1" fill="#a0a0a0"/>
<rect x="445" y="1" width="1" height="22" fill="#a0a0a0"/>
<rect x="470" y="1" width="1" height="23" fill="#fff"/>
<rect x="445" y="23" width="26" height="1" fill="#fff"/>
<rect x="605" y="1" width="26" height="23" fill="url(#chk)"/>
<rect x="605" y="1" width="26" height="1" fill="#a0a0a0"/>
<rect x="605" y="1" width="1" height="22" fill="#a0a0a0"/>
<rect x="630" y="1" width="1" height="23" fill="#fff"/>
<rect x="605" y="23" width="26" height="1" fill="#fff"/>
<rect x="1051" y="1" width="26" height="23" fill="url(#chk)"/>
<rect x="1051" y="1" width="26" height="1" fill="#a0a0a0"/>
<rect x="1051" y="1" width="1" height="22" fill="#a0a0a0"/>
<rect x="1076" y="1" width="1" height="23" fill="#fff"/>
<rect x="1051" y="23" width="26" height="1" fill="#fff"/>
</g>
<path d="M0.5 4.5H8L11.5 8V17.5H0.5Z" fill="#fff" stroke="#8a8a8a"/>
<path d="M8 4.5V8H11.5" fill="#e6e6e6" stroke="#8a8a8a"/>
<path d="M2 7H5M2 10.4H7.6M2 12.5H7M2 14.5H4.2" stroke="#9a9a9a" stroke-width="1"/>
<defs><linearGradient id="gp" x1="0" y1="0" x2="1" y2="1"><stop offset="0" stop-color="#8cf58c"/><stop offset=".5" stop-color="#18d828"/><stop offset="1" stop-color="#0aa80a"/></linearGradient></defs>
<path d="M8.2 10.2H11.8V14.2H15.8V17.8H11.8V21.8H8.2V17.8H4.2V14.2H8.2Z" fill="url(#gp)" stroke="#0c9a10" stroke-width=".7"/>
<defs><linearGradient id="gd" x1="0" y1="0" x2=".6" y2="1"><stop offset="0" stop-color="#fff268"/><stop offset=".5" stop-color="#f2c420"/><stop offset="1" stop-color="#c08a0a"/></linearGradient><linearGradient id="bl" x1="0" y1="0" x2="0" y2="1"><stop offset="0" stop-color="#2e88ea"/><stop offset="1" stop-color="#0a44a8"/></linearGradient><linearGradient id="cl" x1="0" y1="0" x2="0" y2="1"><stop offset="0" stop-color="#ffffff"/><stop offset="1" stop-color="#bccdee"/></linearGradient><radialGradient id="rd" cx=".4" cy=".3" r=".8"><stop offset="0" stop-color="#f0603a"/><stop offset="1" stop-color="#c8200a"/></radialGradient></defs>
<path d="M73.400 6L83.600 12.800L83.800 15.600L75.800 20.800L68.100 15.200C69.600 12 72 9 73.400 6Z" fill="#e9d9a0" stroke="#9a6408" stroke-width=".9" stroke-linejoin="round"/>
<path d="M73.400 6L83.600 12.800L76 18L68.300 14.600C69.800 11.600 72 9 73.400 6Z" fill="url(#gd)" stroke="#a87408" stroke-width=".6" stroke-linejoin="round"/>
<path d="M98.2 5.4H107.4L109.2 7.6V14.5H101.3L98.2 12.6Z" fill="#1a8cf8" stroke="#1570d8" stroke-width=".6"/>
<path d="M98.2 5.4L101.3 7.6V14.5" fill="none" stroke="#9fd2ff" stroke-width=".8"/><path d="M103.400 10H107.800" stroke="#e8f4ff" stroke-width="1.300"/><path d="M103.400 12.300H107.800" stroke="#7cc0ff" stroke-width=".8"/>
<path d="M99.400 20.600a2.500 2.500 0 0 1-.3-5a3.600 3.600 0 0 1 6.200-.6a2.800 2.800 0 0 1 4 1.200a2.300 2.300 0 0 1-.2 4.400Z" fill="url(#cl)" stroke="#4a66ae" stroke-width=".9"/>
<path d="M132.200 12.600L132.200 20.500A7.900 7.900 0 0 0 140.100 12.600Z" fill="#58b060" opacity=".45"/>
<g fill="none" stroke="#8fb0ea" stroke-width="1"><circle cx="132.2" cy="12.6" r="7.5" opacity=".6"/><circle cx="132.2" cy="12.6" r="5.5" opacity=".85"/><circle cx="132.2" cy="12.6" r="3.4" stroke="#5f8ee0" stroke-width="1.2"/></g>
<path d="M132.6 13V20.5" stroke="#28a028" stroke-width="1.3"/>
<circle cx="132.2" cy="12.6" r="1.7" fill="#2a54c8"/>
<defs><linearGradient id="yl" x1="0" y1="0" x2="1" y2="1"><stop offset="0" stop-color="#fff27a"/><stop offset="1" stop-color="#e6b21c"/></linearGradient></defs>
<path d="M151.600 12.400L157.800 20.600L161.600 20.200L166.400 11.400Z" fill="url(#yl)" stroke="#c89a18" stroke-width=".7" stroke-linejoin="round"/>
<ellipse cx="159" cy="10.3" rx="7.9" ry="2.5" transform="rotate(-7 159 10.3)" fill="#4f9fd4" stroke="#2c7fb4" stroke-width=".7"/>
<path d="M155.200 9.800C155 3.800 162.400 3.600 162.400 9.200C160 10.400 157.400 10.600 155.200 9.800Z" fill="#66b6e6" stroke="#2c7fb4" stroke-width=".7"/>
<circle cx="163.400" cy="16.600" r="4.300" fill="url(#rd)"/><rect x="161.800" y="15" width="3.200" height="3.200" fill="#fff"/>
<g shape-rendering="crispEdges" fill="#565656">
<rect x="245" y="7" width="1" height="14"/><rect x="244" y="8" width="3" height="1"/>
<rect x="243" y="18" width="14" height="1"/><rect x="255" y="17" width="1" height="3"/>
</g>
<g shape-rendering="crispEdges" fill="#0a8c14"><rect x="251" y="8" width="1" height="9"/><rect x="252" y="9" width="2" height="1"/><rect x="249" y="15" width="2" height="1"/></g>
<g shape-rendering="crispEdges" fill="#565656">
<rect x="273" y="7" width="1" height="14"/><rect x="272" y="8" width="3" height="1"/>
<rect x="271" y="18" width="14" height="1"/><rect x="283" y="17" width="1" height="3"/>
</g>
<g shape-rendering="crispEdges"><rect x="279" y="5" width="1" height="12" fill="#0a8c14"/><rect x="277" y="7" width="5" height="8" fill="#0a8c14"/><rect x="278" y="8" width="3" height="6" fill="#5fe86f"/></g>
<g shape-rendering="crispEdges" fill="#565656">
<rect x="301" y="7" width="1" height="14"/><rect x="300" y="8" width="3" height="1"/>
<rect x="299" y="18" width="14" height="1"/><rect x="311" y="17" width="1" height="3"/>
</g>
<path d="M300.2 15.7C302.6 13.6 304.4 10 306.4 10.2S310 13.6 312 14.3" stroke="#2a9a3a" stroke-width="1.1" fill="none"/>
<path d="M341.4 15.2L345.59999999999997 19.2" stroke="#b07c08" stroke-width="3.6" stroke-linecap="butt"/>
<path d="M341.4 15.2L345.4 19" stroke="#f2d850" stroke-width="2" stroke-linecap="butt"/>
<circle cx="337.2" cy="11" r="5.5" fill="#d9f0fb" stroke="#2f72c4" stroke-width="1.5"/>
<path d="M334.0 11H340.4M337.2 7.8V14.2" stroke="#3a86b4" stroke-width="2"/>
<path d="M369.4 15.2L373.59999999999997 19.2" stroke="#b07c08" stroke-width="3.6" stroke-linecap="butt"/>
<path d="M369.4 15.2L373.4 19" stroke="#f2d850" stroke-width="2" stroke-linecap="butt"/>
<circle cx="365.2" cy="11" r="5.5" fill="#d9f0fb" stroke="#2f72c4" stroke-width="1.5"/>
<path d="M362.0 11H368.4" stroke="#3a86b4" stroke-width="2"/>
<rect x="387" y="5" width="8" height="8" fill="#36a022"/>
<rect x="388.2" y="7.8" width="5.6" height="4" fill="#fff"/><rect x="389.2" y="9" width="3.6" height="1" fill="#a8dc98"/><rect x="388" y="6" width="1" height="1" fill="#dfe"/>
<rect x="395.2" y="5" width="8" height="8" fill="#1f4fc8"/>
<rect x="396.4" y="7.8" width="5.6" height="4" fill="#fff"/><rect x="397.4" y="9" width="3.6" height="1" fill="#a0b8f0"/><rect x="396.2" y="6" width="1" height="1" fill="#dfe"/>
<rect x="387" y="13.2" width="8" height="8" fill="#1f4fc8"/>
<rect x="388.2" y="16.0" width="5.6" height="4" fill="#fff"/><rect x="389.2" y="17.2" width="3.6" height="1" fill="#a0b8f0"/><rect x="388" y="14.2" width="1" height="1" fill="#dfe"/>
<rect x="395.2" y="13.2" width="8" height="8" fill="#36a022"/>
<rect x="396.4" y="16.0" width="5.6" height="4" fill="#fff"/><rect x="397.4" y="17.2" width="3.6" height="1" fill="#a8dc98"/><rect x="396.2" y="14.2" width="1" height="1" fill="#dfe"/>
<g shape-rendering="crispEdges" fill="#565656">
<rect x="425" y="7" width="1" height="14"/><rect x="424" y="8" width="3" height="1"/>
<rect x="423" y="18" width="14" height="1"/><rect x="435" y="17" width="1" height="3"/>
</g>
<path d="M430.3 9.5L434.2 12.5L430.3 15.5Z" fill="#5fd06a" stroke="#2a9a3a" stroke-width=".9"/>
<g shape-rendering="crispEdges" fill="#565656">
<rect x="453" y="7" width="1" height="14"/><rect x="452" y="8" width="3" height="1"/>
<rect x="451" y="18" width="14" height="1"/><rect x="463" y="17" width="1" height="3"/>
</g>
<path d="M459.5 7V16.8" stroke="#2a6aa8" stroke-width="1.2"/><path d="M465.5 12.6H461M463.6 10.6L460.6 12.6L463.6 14.6Z" stroke="#d84a10" stroke-width="1" fill="#d84a10"/>
<path d="M484.5 5.5H491.5L495.5 9.5V18.5H484.5Z" fill="#fff" stroke="#8a8a8a"/>
<path d="M491.5 5.5V9.5H495.5" fill="#e6e6e6" stroke="#8a8a8a"/><path d="M488.5 8C487 9 487 15 488.5 16" stroke="#777" fill="none" stroke-width=".9"/>
<path d="M492.2 11.5H495.8V15.399999999999999H499.7V19.0H495.8V22.9H492.2V19.0H488.3V15.399999999999999H492.2Z" fill="url(#gp)" stroke="#0c9a10" stroke-width=".7"/>
<polygon points="505.5,12 511.5,12 508.5,15" fill="#000" shape-rendering="geometricPrecision"/>
<circle cx="530.1" cy="13" r="6.7" fill="#eef2f6" stroke="url(#bl)" stroke-width="2.4"/><circle cx="530.1" cy="13" r="7.8" fill="none" stroke="#0c46a8" stroke-width=".5"/>
<path d="M530.1 8.400V9.400M530.1 16.600V17.600M525.500 13H526.500M533.700 13H534.700" stroke="#9aa6b4" stroke-width=".9"/>
<path d="M529.300 9.800L530 13.200L533.200 12.600" stroke="#222" stroke-width="1.200" fill="none"/>
<polygon points="544.6,12 550.6,12 547.6,15" fill="#000" shape-rendering="geometricPrecision"/>
<rect x="561.5" y="6.5" width="15" height="13" fill="#fff" stroke="#3a78d0"/><rect x="562" y="7" width="14" height="2" fill="#5a98e8"/><path d="M562 14.5H576" stroke="#6a98d8" stroke-width="1"/>
<path d="M563.5 12.2L566 11L568.5 11.6L571 10.4L574.5 10.8" stroke="#b03020" stroke-width="1.2" fill="none"/><path d="M563.5 17.6L566 16.6L568.5 17.6L571 15.6L574.5 17.4" stroke="#2a9a3a" stroke-width="1.2" fill="none"/>
<polygon points="583.5,12 589.5,12 586.5,15" fill="#000" shape-rendering="geometricPrecision"/>
<path d="M613.2 5.8V17.6L615.9 15.2L618.3 20L620.3 19L618 14.4L621.6 14.2Z" fill="#444"/>
<path d="M638 13.5H644M647 13.5H653M645.5 6V12M645.5 15V21" stroke="#555" stroke-width="1"/>
<path d="M679.5 7V20" stroke="#666" stroke-width="1.2"/><path d="M702 13.5H714" stroke="#666" stroke-width="1.2"/><path d="M730 19.8L742 7.7" stroke="#666" stroke-width="1.2"/>
<path d="M755.700 14.500L763.700 7M756.500 18.800L769.600 7M761 19.800L770.100 11.300M758.900 12L758.400 18.800M762 9.600L761.400 17.800M765 7.600L764.400 15.800M767.700 5.100L767.300 12.500" stroke="#3a3a3a" stroke-width="1.100" fill="none"/>
<text x="766.8" y="22.3" font-family='"Liberation Sans", "Noto Sans CJK SC", sans-serif' font-size="6.5" font-weight="bold" fill="#333">E</text>
<path d="M785 6.5H798" stroke="#555" stroke-width="1" stroke-dasharray="1 1"/>
<path d="M785 9.5H798" stroke="#555" stroke-width="1" stroke-dasharray="1 1"/>
<path d="M785 13.5H798" stroke="#555" stroke-width="1" stroke-dasharray="1 1"/>
<path d="M785 17.5H794" stroke="#555" stroke-width="1" stroke-dasharray="1 1"/>
<text x="794.6" y="22.3" font-family='"Liberation Sans", "Noto Sans CJK SC", sans-serif' font-size="6.5" font-weight="bold" fill="#333">F</text>
<text x="815.6" y="18" font-family='"Liberation Sans", "Noto Sans CJK SC", sans-serif' font-size="12.5" font-weight="bold" fill="#5a5a5a" textLength="8.2" lengthAdjust="spacingAndGlyphs">A</text>
<path d="M842 7.500H854M842 19.500H854M842.500 9V19M853.500 9V19" fill="none" stroke="#555" stroke-width="1" stroke-dasharray="1 1" shape-rendering="crispEdges"/>
<text x="844.3" y="17.8" font-family='"Liberation Sans", "Noto Sans CJK SC", sans-serif' font-size="11.5" font-weight="bold" fill="#666">T</text>
<path d="M869 10.200L872.500 6.800L876 10.200L872.500 11.800ZM876 16.800L879.600 20.300L883.200 16.800L879.600 15.200Z" fill="#484848"/><path d="M871.100 14.200L873.600 16.600L877.800 11.300" stroke="#484848" stroke-width="1.400" fill="none"/>

<polygon points="889.7,12 895.7,12 892.7,15" fill="#000" shape-rendering="geometricPrecision"/>
<g font-family='"Liberation Sans", "Noto Sans CJK SC", sans-serif' font-size="10" fill="#3a3a3a">
<text x="916.8" y="17.2" textLength="13.3" lengthAdjust="spacingAndGlyphs">M1</text>
<text x="944" y="17.2" textLength="13.8" lengthAdjust="spacingAndGlyphs">M5</text>
<text x="970" y="17.2" textLength="18.5" lengthAdjust="spacingAndGlyphs">M15</text>
<text x="998.2" y="17.2" textLength="18.6" lengthAdjust="spacingAndGlyphs">M30</text>
<text x="1029" y="17.2" textLength="12.8" lengthAdjust="spacingAndGlyphs">H1</text>
<text x="1056" y="17.2" textLength="13.6" lengthAdjust="spacingAndGlyphs">H4</text>
<text x="1085" y="17.2" textLength="12.8" lengthAdjust="spacingAndGlyphs">D1</text>
<text x="1113" y="17.2" textLength="14.6" lengthAdjust="spacingAndGlyphs">W1</text>
<text x="1139.2" y="17.2" textLength="15.6" lengthAdjust="spacingAndGlyphs">MN</text>
</g>
<g font-family='"Liberation Sans", "Noto Sans CJK SC", sans-serif' font-size="12" fill="#000">
<text x="19" y="14.9">新订单</text><text x="172" y="16.3">自动交易</text></g>
<path d="M1629.6 14L1624.6 18" stroke="#3a6ad0" stroke-width="2.4" stroke-linecap="round"/><circle cx="1632.6" cy="10.8" r="3.9" fill="#f4f8ff" stroke="#2f62d0" stroke-width="1.3"/>
<path d="M1655.5 10.3c3.6 0 6.4 2 6.4 4.7s-2.8 4.7-6.4 4.7c-.8 0-1.6-.1-2.3-.3l-1.8 2.2.1-2.8c-1.5-.9-2.4-2.2-2.4-3.8 0-2.700 2.8-4.700 6.400-4.700Z" fill="#e8ebf2" stroke="#9aa0aa" stroke-width=".9"/>
<circle cx="1663.4" cy="10.6" r="8.1" fill="url(#rd)"/>
<text x="1663.3" y="15.2" font-family='"Liberation Sans", "Noto Sans CJK SC", sans-serif' font-size="13" fill="#fff" text-anchor="middle">1</text>
</svg></body></html>
